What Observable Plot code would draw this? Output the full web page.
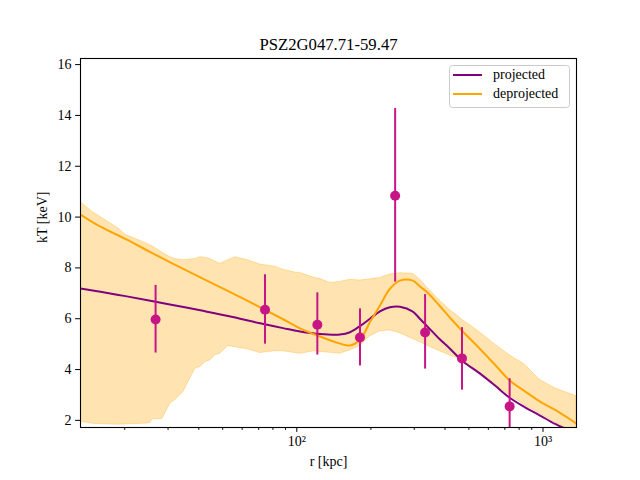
<!DOCTYPE html>
<html>
<head>
<meta charset="utf-8">
<script src="https://cdn.jsdelivr.net/npm/d3@7"></script>
<script src="https://cdn.jsdelivr.net/npm/@observablehq/plot@0.6"></script>
<style>
  html, body { margin: 0; padding: 0; background: #fff; }
  svg { font-family: "Liberation Serif", "DejaVu Serif", serif; }
</style>
</head>
<body>
<div id="chart"></div>
<script>
// Temperature profile of PSZ2G047.71-59.47
const title = "PSZ2G047.71-59.47";
const xLabel = "r [kpc]";
const yLabel = "kT [keV]";

// Axis domains and ticks
const xDomain = [13.23, 1368];
const yDomain = [1.72, 16.24];
const yTicks = [2, 4, 6, 8, 10, 12, 14, 16];
const xMajorTicks = [100, 1000];
const xMajorLabels = ["10²", "10³"];
const xMinorTicks = [20, 30, 40, 50, 60, 70, 80, 90, 200, 300, 400, 500, 600, 700, 800, 900];

// Deprojected uncertainty band (radius in kpc, kT in keV)
const bandRadius = [13.23, 14.80, 15.95, 18.86, 20.14, 24.28, 25.43, 25.91, 28.44, 30.65,
  32.11, 34.60, 38.70, 40.55, 42.49, 44.52, 46.65, 48.89, 52.66, 56.23,
  63.47, 71.00, 81.66, 88.00, 98.42, 103.1, 118.6, 124.3, 136.5, 149.8,
  164.5, 180.6, 198.3, 217.7, 238.9, 262.3, 296.1, 316.1, 337.5, 380.9,
  418.2, 472.2, 553.4, 636.8, 732.3, 842.3, 968.8, 1125, 1368];
const bandUpper = [10.58, 10.2, 10.0, 9.55, 9.3, 8.98, 8.88, 8.85, 8.6, 8.42,
  8.35, 8.3, 8.35, 8.42, 8.4, 8.35, 8.25, 8.16, 8.3, 8.42,
  8.3, 8.13, 8.05, 7.93, 7.82, 7.8, 7.6, 7.57, 7.41, 7.45,
  7.53, 7.5, 7.55, 7.6, 7.74, 7.79, 7.77, 7.55, 7.24, 6.72,
  6.35, 5.95, 5.47, 5.0, 4.56, 4.2, 3.6, 3.25, 2.95];
const bandLower = [1.95, 1.87, 1.85, 1.83, 1.84, 1.87, 1.9, 2.04, 2.05, 2.66,
  2.8, 3.11, 4.03, 4.1, 4.29, 4.36, 4.56, 4.62, 4.93, 4.88,
  4.79, 4.65, 4.72, 4.72, 4.65, 4.62, 4.72, 4.69, 4.66, 4.62,
  4.75, 4.92, 5.3, 5.5, 5.54, 5.43, 5.2, 5.08, 4.95, 4.72,
  4.56, 4.36, 3.88, 3.42, 2.98, 2.6, 2.28, 1.9, 1.55];

// Model profiles
const modelRadius = [13.23, 15.95, 20.14, 25.43, 32.11, 40.55, 52.66, 71.00, 88.00, 103.1,
  124.3, 149.8, 164.5, 180.6, 198.3, 217.7, 238.9, 262.3, 296.1, 316.1,
  337.5, 380.9, 418.2, 472.2, 553.4, 636.8, 732.3, 842.3, 968.8, 1125, 1368];
const projected = [7.19, 7.06, 6.89, 6.71, 6.52, 6.33, 6.11, 5.82, 5.63, 5.50,
  5.40, 5.38, 5.47, 5.71, 6.00, 6.29, 6.45, 6.47, 6.28, 6.0,
  5.72, 5.19, 4.83, 4.33, 3.85, 3.38, 2.89, 2.52, 2.2, 1.85, 1.5];
const deprojected = [10.1, 9.62, 9.14, 8.62, 8.12, 7.63, 7.09, 6.45, 5.98, 5.62,
  5.3, 5.02, 4.95, 5.17, 5.87, 6.52, 7.18, 7.5, 7.5, 7.27,
  7.05, 6.5, 6.05, 5.5, 4.82, 4.2, 3.57, 3.15, 2.75, 2.4, 1.87];

// Measured spectral temperatures with 1-sigma errors
const obsRadius = [26.7, 74.3, 121.2, 180.6, 250.9, 332, 468.8, 732];
const obsT = [5.97, 6.35, 5.76, 5.26, 10.84, 5.46, 4.44, 2.55];
const obsLow = [4.65, 5.0, 4.57, 4.14, 7.44, 4.02, 3.19, 1.45];
const obsHigh = [7.31, 7.73, 7.02, 6.39, 14.27, 6.95, 5.65, 3.64];

const seriesNames = ["projected", "deprojected"];
const seriesColors = ["#800080", "#ffa500"];

const band = bandRadius.map((r, i) => ({r, lo: bandLower[i], hi: bandUpper[i]}));
const models = modelRadius.map((r, i) => ({r, proj: projected[i], deproj: deprojected[i]}));
const obs = obsRadius.map((r, i) => ({r, t: obsT[i], lo: obsLow[i], hi: obsHigh[i]}));

const font = "Liberation Serif";
const pointColor = "#c71585";

const chart = Plot.plot({
  width: 640,
  height: 480,
  marginLeft: 80,
  marginRight: 64,
  marginTop: 58,
  marginBottom: 53,
  style: {fontFamily: font, fontSize: "14px", color: "#000", background: "#fff"},
  x: {type: "log", domain: xDomain},
  y: {domain: yDomain},
  marks: [
    Plot.areaY(band, {x: "r", y1: "lo", y2: "hi", fill: seriesColors[1], fillOpacity: 0.3,
      stroke: seriesColors[1], strokeOpacity: 0.3, strokeWidth: 1, clip: true}),
    Plot.line(models, {x: "r", y: "proj", stroke: seriesColors[0], strokeWidth: 2,
      curve: "catmull-rom", clip: true}),
    Plot.line(models, {x: "r", y: "deproj", stroke: seriesColors[1], strokeWidth: 2,
      curve: "catmull-rom", clip: true}),
    Plot.ruleX(obs, {x: "r", y1: "lo", y2: "hi", stroke: pointColor, strokeWidth: 2, clip: true}),
    Plot.dot(obs, {x: "r", y: "t", r: 5, fill: pointColor, stroke: "none", clip: true}),
    Plot.frame({stroke: "#000", strokeWidth: 1.1}),
    Plot.axisY({ticks: yTicks, tickSize: 4.9, tickPadding: 4, label: null,
      fontSize: 14, tickFormat: d => String(d)}),
    Plot.axisX({ticks: xMajorTicks, tickSize: 4.9, tickPadding: 4, label: null,
      fontSize: 14, tickFormat: d => xMajorLabels[xMajorTicks.indexOf(d)]}),
    Plot.axisX({ticks: xMinorTicks, tickSize: 2.8, text: null, label: null}),
    Plot.text([title], {frameAnchor: "top", lineAnchor: "bottom", dy: -9,
      fontSize: 16.7, text: d => d}),
    Plot.text([xLabel], {frameAnchor: "bottom", lineAnchor: "middle", dy: 34,
      fontSize: 14, text: d => d}),
    Plot.text([yLabel], {frameAnchor: "left", lineAnchor: "middle", rotate: -90, dx: -38,
      fontSize: 14, text: d => d})
  ]
});

// Legend box in the upper right corner of the axes
const svg = d3.select(chart);
const legend = svg.append("g")
  .attr("font-family", font).attr("font-size", 14).attr("text-anchor", "start");
legend.append("rect")
  .attr("x", 449.5).attr("y", 65.5).attr("width", 120).attr("height", 42)
  .attr("rx", 3).attr("fill", "#fff").attr("fill-opacity", 0.8)
  .attr("stroke", "#cccccc").attr("stroke-width", 1);
seriesNames.forEach((name, i) => {
  const y = 75 + i * 19;
  legend.append("line")
    .attr("x1", 453).attr("x2", 482).attr("y1", y).attr("y2", y)
    .attr("stroke", seriesColors[i]).attr("stroke-width", 2);
  legend.append("text")
    .attr("x", 493).attr("y", y).attr("dy", "0.32em")
    .attr("text-anchor", "start")
    .attr("fill", "#000").text(name);
});

document.getElementById("chart").appendChild(chart);
</script>
</body>
</html>
